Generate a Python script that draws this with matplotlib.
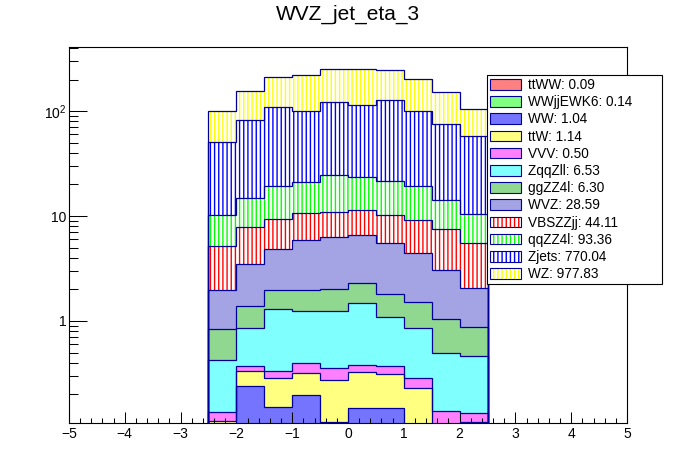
import numpy as np
import matplotlib
matplotlib.use('Agg')
import matplotlib.pyplot as plt
from matplotlib.patches import Patch
from matplotlib.ticker import MultipleLocator, FixedLocator, FixedFormatter, LogLocator, NullFormatter

plt.rcParams['font.family'] = ['Liberation Sans', 'DejaVu Sans']
plt.rcParams['mathtext.fontset'] = 'custom'
plt.rcParams['mathtext.rm'] = 'Liberation Sans'
plt.rcParams['hatch.linewidth'] = 1.0

# bin edges of jet eta
edges = [-2.5, -2.0, -1.5, -1.0, -0.5, 0.0, 0.5, 1.0, 1.5, 2.0, 2.5]

# per-bin yields, stacked bottom -> top
ttWW = [0.005, 0.008, 0.010, 0.012, 0.012, 0.012, 0.011, 0.009, 0.006, 0.005]
WWjjEWK6 = [0.008, 0.012, 0.015, 0.018, 0.018, 0.018, 0.017, 0.014, 0.012, 0.008]
WW = [0.047, 0.219, 0.126, 0.166, 0.078, 0.117, 0.119, 0.027, 0.022, 0.047]
ttW = [0.052, 0.093, 0.134, 0.122, 0.164, 0.178, 0.166, 0.179, 0.050, 0.048]
VVV = [0.023, 0.038, 0.047, 0.077, 0.085, 0.054, 0.057, 0.056, 0.048, 0.025]
ZqqZll = [0.287, 0.482, 0.958, 0.850, 0.888, 1.096, 0.714, 0.567, 0.354, 0.328]
ggZZ4l = [0.412, 0.548, 0.670, 0.715, 0.755, 0.815, 0.726, 0.668, 0.548, 0.410]
WVZ = [1.13, 2.09, 2.86, 3.91, 4.27, 4.26, 3.69, 2.89, 2.00, 1.18]
VBSZZjj = [3.25, 4.31, 4.60, 4.73, 4.58, 4.78, 4.66, 4.69, 4.43, 3.45]
qqZZ4l = [4.95, 7.14, 10.02, 10.60, 13.85, 12.17, 11.24, 10.08, 6.83, 4.88]
Zjets = [41.2, 67.7, 90.5, 78.8, 96.3, 89.8, 106.8, 80.2, 61.4, 47.0]
WZ = [49.3, 73.4, 102.1, 119.0, 130.0, 136.2, 118.8, 101.0, 75.0, 47.8]

names = ['ttWW', 'WWjjEWK6', 'WW', 'ttW', 'VVV', 'ZqqZll', 'ggZZ4l', 'WVZ',
         'VBSZZjj', 'qqZZ4l', 'Zjets', 'WZ']
values = [ttWW, WWjjEWK6, WW, ttW, VVV, ZqqZll, ggZZ4l, WVZ, VBSZZjj, qqZZ4l, Zjets, WZ]
totals = [0.09, 0.14, 1.04, 1.14, 0.50, 6.53, 6.30, 28.59, 44.11, 93.36, 770.04, 977.83]

# (fill colour, hatched?)
styles = [('#ff8080', False), ('#80ff80', False), ('#7474ff', False), ('#ffff80', False),
          ('#ff80ff', False), ('#80ffff', False), ('#90d890', False), ('#a4a4e4', False),
          ('#ff0000', True), ('#00ff00', True), ('#0000ff', True), ('#ffff00', True)]

navy = '#000099'

fig = plt.figure(figsize=(6.96, 4.72), dpi=100)
ax = fig.add_axes([0.099, 0.104, 0.802, 0.796])
ax.set_yscale('log')

bottom = np.full(len(edges) - 1, 1e-4)
tops = []
handles = []
for vals, (col, hatched) in zip(values, styles):
    top = bottom + np.array(vals)
    if hatched:
        ax.stairs(top, edges, baseline=bottom, fill=True, facecolor='white',
                  edgecolor=col, hatch='||||', linewidth=0, zorder=1)
        handles.append((Patch(facecolor='white', edgecolor=col, hatch='||||', linewidth=0),
                        Patch(facecolor='none', edgecolor=navy, linewidth=0.8)))
    else:
        ax.stairs(top, edges, baseline=bottom, fill=True, facecolor=col,
                  linewidth=0, zorder=1)
        handles.append(Patch(facecolor=col, edgecolor=navy, linewidth=0.8))
    tops.append(top)
    bottom = top

for top in tops:
    ax.stairs(top, edges, baseline=1e-4, fill=False, color=navy, linewidth=0.9, zorder=2)

ax.set_xlim(-5, 5)
ax.set_ylim(0.1068, 407)

ax.xaxis.set_major_locator(MultipleLocator(1))
ax.xaxis.set_minor_locator(MultipleLocator(0.2))
ax.yaxis.set_major_locator(FixedLocator([1, 10, 100]))
ax.yaxis.set_major_formatter(FixedFormatter(['1', '10', '$10^{2}$']))
ax.yaxis.set_minor_locator(LogLocator(base=10, subs=np.arange(2, 10)))
ax.yaxis.set_minor_formatter(NullFormatter())

ax.tick_params(axis='x', which='major', direction='in', length=7.7, width=0.75,
               labelsize=10, pad=3, top=False)
ax.tick_params(axis='x', which='minor', direction='in', length=3.4, width=0.75, top=False)
ax.tick_params(axis='y', which='major', direction='in', length=12.7, width=0.75,
               labelsize=10, pad=2, right=False)
ax.tick_params(axis='y', which='minor', direction='in', length=6.3, width=0.75, right=False)
for sp in ax.spines.values():
    sp.set_linewidth(0.8)
    sp.set_zorder(3)

labels = [f'{n}: {t:.2f}' for n, t in zip(names, totals)]
leg = ax.legend(handles, labels, loc='upper left',
                bbox_to_anchor=(0.70, 0.0, 0.251, 1 - 75 / 472),
                bbox_transform=fig.transFigure, mode='expand', borderaxespad=0,
                fontsize=9.8, handlelength=2.28, handleheight=0.81, handletextpad=0.47,
                labelspacing=0.235, borderpad=0.22, fancybox=False, framealpha=1,
                edgecolor='black')
leg.get_frame().set_linewidth(0.8)
leg.set_zorder(5)

fig.text(0.5, 1 - 14 / 472, 'WVZ_jet_eta_3', ha='center', va='center', fontsize=15)

fig.savefig('out.png', dpi=100)
